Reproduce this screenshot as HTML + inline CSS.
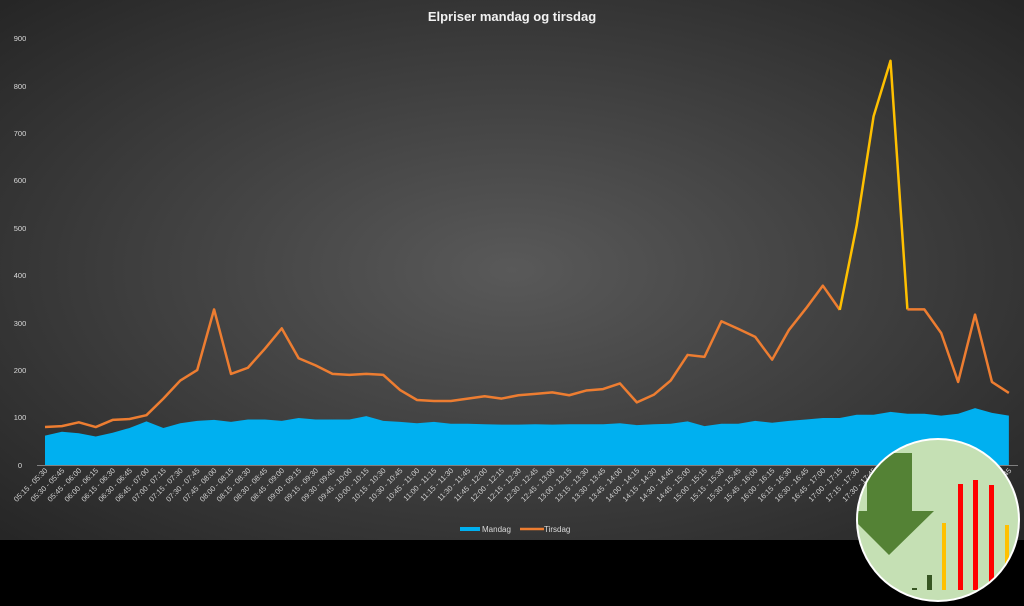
<!DOCTYPE html>
<html><head><meta charset="utf-8"><style>
html,body{margin:0;padding:0;background:#000;}
svg{display:block;font-family:"Liberation Sans",sans-serif;}
.xl text{font-size:7.5px;fill:#d0d0d0;text-anchor:end;}
.yl text{font-size:7.5px;fill:#d9d9d9;text-anchor:middle;}
</style></head><body>
<svg width="1024" height="606" viewBox="0 0 1024 606">
<defs>
<radialGradient id="bg" cx="0.5" cy="0.5" r="0.7">
<stop offset="0" stop-color="#595959"/><stop offset="1" stop-color="#262626"/>
</radialGradient>
</defs>
<rect x="0" y="0" width="1024" height="606" fill="#000"/>
<rect x="0" y="0" width="1024" height="540" fill="url(#bg)"/>
<text x="512" y="21" text-anchor="middle" font-size="13" font-weight="bold" fill="#f2f2f2">Elpriser mandag og tirsdag</text>
<g class="yl">
<text x="20" y="468">0</text><text x="20" y="420">100</text><text x="20" y="373">200</text><text x="20" y="326">300</text><text x="20" y="278">400</text><text x="20" y="231">500</text><text x="20" y="183">600</text><text x="20" y="136">700</text><text x="20" y="89">800</text><text x="20" y="41">900</text>
</g>
<g transform="translate(45,465) scale(16.91,-0.4744)">
<polygon fill="#00b0f0" points="0,0 0,62 1,70 2,67 3,60 4,68 5,78 6,92 7,78 8,88 9,93 10,95 11,91 12,96 13,96 14,93 15,99 16,96 17,96 18,96 19,103 20,93 21,91 22,88 23,91 24,87 25,87 26,86 27,85 28,85 29,86 30,85 31,86 32,86 33,86 34,88 35,84 36,86 37,87 38,92 39,82 40,87 41,87 42,93 43,89 44,93 45,96 46,99 47,99 48,106 49,106 50,112 51,108 52,108 53,104 54,108 55,120 56,110 57,104 57,0"/>
<polyline fill="none" stroke="#ed7d31" stroke-width="2.5" vector-effect="non-scaling-stroke" stroke-linejoin="round" points="0,80 1,82 2,90 3,80 4,95 5,97 6,105 7,140 8,178 9,200 10,328 11,192 12,205 13,245 14,288 15,225 16,210 17,192 18,190 19,192 20,190 21,158 22,137 23,135 24,135 25,140 26,145 27,140 28,147 29,150 30,153 31,147 32,157 33,160 34,172 35,132 36,148 37,178 38,232 39,228 40,303 41,287 42,270 43,222 44,285 45,330 46,378 47,327"/>
<polyline fill="none" stroke="#ffc000" stroke-width="2.5" vector-effect="non-scaling-stroke" stroke-linejoin="round" points="47,327 48,505 49,735 50,852 51,328"/>
<polyline fill="none" stroke="#ed7d31" stroke-width="2.5" vector-effect="non-scaling-stroke" stroke-linejoin="round" points="51,328 52,328 53,278 54,175 55,317 56,175 57,152"/>
</g>
<line x1="37" y1="465.5" x2="1018" y2="465.5" stroke="#808080" stroke-width="1"/>
<g class="xl">
<text transform="translate(48,471) rotate(-45)">05:15 - 05:30</text>
<text transform="translate(64.9,471) rotate(-45)">05:30 - 05:45</text>
<text transform="translate(81.8,471) rotate(-45)">05:45 - 06:00</text>
<text transform="translate(98.7,471) rotate(-45)">06:00 - 06:15</text>
<text transform="translate(115.6,471) rotate(-45)">06:15 - 06:30</text>
<text transform="translate(132.6,471) rotate(-45)">06:30 - 06:45</text>
<text transform="translate(149.5,471) rotate(-45)">06:45 - 07:00</text>
<text transform="translate(166.4,471) rotate(-45)">07:00 - 07:15</text>
<text transform="translate(183.3,471) rotate(-45)">07:15 - 07:30</text>
<text transform="translate(200.2,471) rotate(-45)">07:30 - 07:45</text>
<text transform="translate(217.1,471) rotate(-45)">07:45 - 08:00</text>
<text transform="translate(234,471) rotate(-45)">08:00 - 08:15</text>
<text transform="translate(250.9,471) rotate(-45)">08:15 - 08:30</text>
<text transform="translate(267.8,471) rotate(-45)">08:30 - 08:45</text>
<text transform="translate(284.7,471) rotate(-45)">08:45 - 09:00</text>
<text transform="translate(301.7,471) rotate(-45)">09:00 - 09:15</text>
<text transform="translate(318.6,471) rotate(-45)">09:15 - 09:30</text>
<text transform="translate(335.5,471) rotate(-45)">09:30 - 09:45</text>
<text transform="translate(352.4,471) rotate(-45)">09:45 - 10:00</text>
<text transform="translate(369.3,471) rotate(-45)">10:00 - 10:15</text>
<text transform="translate(386.2,471) rotate(-45)">10:15 - 10:30</text>
<text transform="translate(403.1,471) rotate(-45)">10:30 - 10:45</text>
<text transform="translate(420,471) rotate(-45)">10:45 - 11:00</text>
<text transform="translate(436.9,471) rotate(-45)">11:00 - 11:15</text>
<text transform="translate(453.8,471) rotate(-45)">11:15 - 11:30</text>
<text transform="translate(470.8,471) rotate(-45)">11:30 - 11:45</text>
<text transform="translate(487.7,471) rotate(-45)">11:45 - 12:00</text>
<text transform="translate(504.6,471) rotate(-45)">12:00 - 12:15</text>
<text transform="translate(521.5,471) rotate(-45)">12:15 - 12:30</text>
<text transform="translate(538.4,471) rotate(-45)">12:30 - 12:45</text>
<text transform="translate(555.3,471) rotate(-45)">12:45 - 13:00</text>
<text transform="translate(572.2,471) rotate(-45)">13:00 - 13:15</text>
<text transform="translate(589.1,471) rotate(-45)">13:15 - 13:30</text>
<text transform="translate(606,471) rotate(-45)">13:30 - 13:45</text>
<text transform="translate(623,471) rotate(-45)">13:45 - 14:00</text>
<text transform="translate(639.9,471) rotate(-45)">14:00 - 14:15</text>
<text transform="translate(656.8,471) rotate(-45)">14:15 - 14:30</text>
<text transform="translate(673.7,471) rotate(-45)">14:30 - 14:45</text>
<text transform="translate(690.6,471) rotate(-45)">14:45 - 15:00</text>
<text transform="translate(707.5,471) rotate(-45)">15:00 - 15:15</text>
<text transform="translate(724.4,471) rotate(-45)">15:15 - 15:30</text>
<text transform="translate(741.3,471) rotate(-45)">15:30 - 15:45</text>
<text transform="translate(758.2,471) rotate(-45)">15:45 - 16:00</text>
<text transform="translate(775.1,471) rotate(-45)">16:00 - 16:15</text>
<text transform="translate(792,471) rotate(-45)">16:15 - 16:30</text>
<text transform="translate(809,471) rotate(-45)">16:30 - 16:45</text>
<text transform="translate(825.9,471) rotate(-45)">16:45 - 17:00</text>
<text transform="translate(842.8,471) rotate(-45)">17:00 - 17:15</text>
<text transform="translate(859.7,471) rotate(-45)">17:15 - 17:30</text>
<text transform="translate(876.6,471) rotate(-45)">17:30 - 17:45</text>
<text transform="translate(893.5,471) rotate(-45)">17:45 - 18:00</text>
<text transform="translate(910.4,471) rotate(-45)">18:00 - 18:15</text>
<text transform="translate(927.3,471) rotate(-45)">18:15 - 18:30</text>
<text transform="translate(944.2,471) rotate(-45)">18:30 - 18:45</text>
<text transform="translate(961.1,471) rotate(-45)">18:45 - 19:00</text>
<text transform="translate(978.1,471) rotate(-45)">19:00 - 19:15</text>
<text transform="translate(995,471) rotate(-45)">19:15 - 19:30</text>
<text transform="translate(1011.9,471) rotate(-45)">19:30 - 19:45</text>
</g>
<rect x="460" y="527" width="20" height="4" fill="#00b0f0"/>
<text x="482" y="532" font-size="8" fill="#d9d9d9">Mandag</text>
<line x1="520" y1="529" x2="544" y2="529" stroke="#ed7d31" stroke-width="2.5"/>
<text x="544" y="532" font-size="8" fill="#d9d9d9">Tirsdag</text>
<clipPath id="cc"><circle cx="938" cy="520" r="80"/></clipPath>
<circle cx="938" cy="520" r="82" fill="#fff"/>
<g clip-path="url(#cc)">
<rect x="850" y="430" width="180" height="180" fill="#c5e0b4"/>
<polygon fill="#548235" points="867,453 912,453 912,511 934,511 889,555 845,511 867,511"/>
<rect x="912" y="588" width="5" height="2" fill="#375623"/>
<rect x="927" y="575" width="5" height="15" fill="#375623"/>
<rect x="942" y="523" width="4" height="67" fill="#ffc000"/>
<rect x="958" y="484" width="5" height="106" fill="#ff0000"/>
<rect x="973" y="480" width="5" height="110" fill="#ff0000"/>
<rect x="989" y="485" width="5" height="105" fill="#ff0000"/>
<rect x="1005" y="525" width="4" height="65" fill="#ffc000"/>
</g>
</svg>
</body></html>
